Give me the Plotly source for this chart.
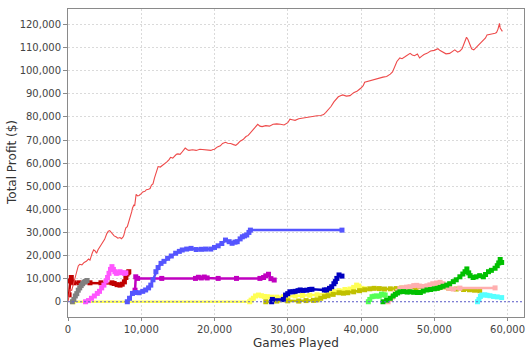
import plotly.graph_objects as go

# ---- data ----
red_x = [0, 150, 300, 500, 800, 1000, 1200, 1400, 1600, 1900, 2200, 2500, 2800, 3000, 3300, 3500, 3700, 3900, 4100,
         4300, 4500, 4800, 5000, 5300, 5500, 5700, 5900, 6100, 6300, 6600, 6800, 7100, 7300, 7500, 7600, 7800, 7900,
         8100, 8200, 8400, 8500, 8700, 8800, 9000, 9100, 9300, 9500, 9700, 10000, 10200, 10500, 10700, 11000, 11200,
         11400, 11600, 11800, 12000, 12200, 12300, 12600, 12900, 13200, 13500, 13800, 14000, 14300, 14500, 14800,
         15000, 15300, 15500, 15800, 16000, 16300, 16500, 17000, 17500, 18000, 18500, 19000, 19500, 19800, 20000,
         20400, 20800, 21100, 21500, 21800, 22200, 22600, 22900, 23200, 23500, 23900, 24300, 24600, 25000, 25300,
         25500, 25700, 25900, 26200, 26500, 27000, 27500, 28000, 28500, 29000, 29500, 30000, 30300, 30600, 31000,
         31500, 32000, 32500, 33000, 33500, 34000, 34500, 34900, 35200, 35500, 35900, 36300, 36600, 36900, 37200,
         37500, 38000, 38500, 39000, 39500, 40000, 40300, 40500, 41000, 41500, 42000, 42500, 43000, 43500, 44000,
         44300, 44500, 44700, 44900, 45300, 45600, 46000, 46300, 46700, 47000, 47300, 47700, 48000, 48300, 48600,
         49000, 49500, 50000, 50500, 50800, 51200, 51600, 52100, 52500, 52800, 53200, 53500, 53800, 54000, 54200,
         54400, 54600, 54800, 55100, 55400, 55700, 56000, 56200, 56500, 56800, 57000, 57200, 57600, 58000, 58300,
         58500, 58700, 58900, 59000, 59300]
red_y = [0, 3000, 5500, 4800, 8000, 10500, 12500, 15500, 16200, 16000, 17000, 17500, 18500, 18000, 21000, 22500,
         22000, 21000, 22500, 23500, 24000, 26000, 27000, 29500, 30500, 30800, 30000, 29000, 28500, 28000, 27500,
         27800, 27300, 28000, 28500, 31000, 32000, 32500, 33500, 35500, 37000, 39000, 40500, 42000, 41500, 46500,
         45800, 46000, 46800, 47500, 47800, 48500, 48700, 49000, 50500, 51000, 53500, 56000, 57500, 58500, 58300,
         59000, 59500, 60500, 61500, 62500, 62200, 63000, 63800, 64000, 63800, 64500, 65500, 66500, 65800, 65500,
         65800, 65500, 66000, 65800, 65400, 65500, 65900, 66000, 67000, 67500, 68500, 69000, 68600, 68500, 68000,
         67700, 68500, 69500, 70200, 71500, 72000, 73500, 74500, 75500, 76200, 76800, 76000, 75800, 76200, 76000,
         76800, 77000, 76800, 76500, 77500, 79000, 78800, 78500, 79200, 79500, 79700, 80000, 80100, 80500, 80600,
         81000, 82000, 83000, 84500, 86500, 87500, 88700, 89200, 89500, 89000, 89200, 90500, 91200, 92500, 93500,
         95000, 95500, 96000, 96500, 97000, 97200, 97500, 98500, 99500, 101000, 102500, 104000, 105500, 105200,
         106000, 106800, 107500, 106800, 106500, 107200, 105500, 106300, 107000, 107500, 108500, 108800, 109500,
         108700, 108000, 107300, 107500, 108500, 109000, 108000, 108500, 109500, 111000, 112500, 114500, 113500,
         111500, 109500, 109000, 110000, 110800, 111500, 112300, 113500, 114200, 115500, 115600, 116000, 116200,
         116500, 118000, 120500, 118500, 117000]

darkred_x = [150, 300, 450, 600, 800, 1500, 3000, 4500, 6000, 6300, 6700, 7100, 7400, 7700, 7900, 8050, 8200, 8300]
darkred_y = [3000, 9000, 10500, 8500, 8200, 8200, 8200, 8200, 8200, 7900, 7400, 7200, 7600, 8600, 10500, 12000, 12600, 13000]

gray_x = [600, 800, 1000, 1200, 1400, 1600, 1800, 2000, 2200, 2400, 2600]
gray_y = [0, 1000, 2500, 3500, 5000, 6000, 7000, 7800, 8500, 8800, 9200]

magenta_x = [2400, 2800, 3200, 3600, 4000, 4300, 4600, 4900, 5200, 5400, 5600, 5800, 6000, 6200, 6400, 6600,
             6800, 7100, 7400, 7700, 7900]
magenta_y = [0, 500, 1500, 2500, 3600, 4500, 6000, 7200, 9000, 10500, 12300, 14000, 15200, 14000, 13000, 12300,
             12500, 13000, 12600, 12300, 12500]

darkmag_x = [9150, 9250, 9500, 12800, 17400, 17800, 18200, 18600, 19000, 20500, 23000, 26200, 26700, 27000,
             27370, 27700, 28150]
darkmag_y = [5000, 10800, 10100, 10100, 10100, 10600, 10300, 10700, 10300, 10100, 10100, 10100, 10500, 11200,
             11900, 10000, 9400]

blue_x = [8100, 8400, 8800, 9200, 9700, 10200, 10600, 11000, 11300, 11600, 12000, 12300, 12700, 13100, 13600,
          14100, 14700, 15200, 15600, 16200, 16800, 17500, 18200, 18800, 19500, 20000, 20500, 21000, 21500, 22000,
          22400, 22800, 23100, 23500, 23800, 24100, 24400, 24700, 24900, 37400]
blue_y = [0, 1500, 3600, 4000, 3900, 4500, 5100, 6000, 7200, 9500, 13000, 14800, 16600, 17500, 18800, 19800,
          21000, 21800, 22400, 22800, 23100, 22600, 22700, 22800, 22800, 23500, 24200, 25200, 26700, 26000, 25300,
          25800, 26000, 27200, 28100, 28500, 28900, 30000, 31000, 31000]

yellow_x = [700, 24800, 25000, 25300, 25600, 26000, 26400, 26800, 27200, 27800, 28500, 29400, 30000, 31000, 32000,
            33000, 34000, 35300, 35800, 36300, 37000, 37800, 38500, 39000, 39400, 39700, 40100, 40500]
yellow_y = [0, 0, 700, 1500, 2500, 2900, 2600, 2300, 2200, 2000, 2000, 2200, 2300, 2500, 2700, 2800, 3000, 3600,
            4200, 4500, 4800, 5300, 5500, 6200, 7200, 6800, 5800, 5600]

olive_x = [27000, 28500, 30000, 31500, 32500, 33500, 34000, 34500, 35000, 35500, 36200, 37000, 37600, 38200, 39000,
           39800, 40500, 41200, 41800, 42500, 43200, 44000, 44800, 45500, 46500, 47500, 49000, 50500, 52000, 53000,
           54000, 54800, 55500, 56200]
olive_y = [0, 300, 400, 300, 500, 600, 800, 1500, 2200, 2600, 3200, 3900, 3700, 3900, 4300, 4800, 5200, 5600,
           5800, 5700, 5500, 5600, 5700, 5900, 6200, 6000, 6100, 6000, 5800, 5500, 5300, 5200, 5000, 4800]

darkblue_x = [27800, 27900, 29400, 29700, 30000, 30300, 30700, 31000, 31400, 31700, 32100, 32600, 33000, 33300,
              35000, 35300, 35700, 36000, 36300, 36500, 36700, 37000, 37400]
darkblue_y = [0, 1000, 1000, 2900, 3500, 4300, 4300, 4500, 4800, 5100, 4900, 5000, 5300, 5400, 5100, 5100, 5800,
              6500, 7800, 8700, 10100, 11600, 11100]

lgreen_x = [41000, 41200, 41500, 41800, 42100, 42500, 42800, 43100, 43300]
lgreen_y = [0, 1000, 2200, 2400, 2500, 2400, 3300, 3000, 2900]

green_x = [43000, 43500, 44000, 44400, 44700, 45000, 45300, 45800, 46300, 46700, 47200, 47700, 48100, 48500, 49000,
           49500, 50000, 50400, 50800, 51200, 51700, 52100, 52600, 53000, 53500, 53900, 54200, 54450, 54700, 54900,
           55300, 55700, 56200, 56700, 57000, 57400, 57800, 58300, 58600, 58800, 59000, 59200]
green_y = [0, 700, 1500, 2500, 3200, 3800, 4300, 4400, 4200, 4300, 4100, 4000, 4000, 4600, 5100, 5300, 5600, 5800,
           6200, 6700, 7200, 7800, 8700, 9500, 10800, 12000, 13000, 14200, 12500, 11300, 10500, 10800, 11300, 10800,
           11800, 13000, 13600, 14500, 15600, 16800, 18300, 17000]

pink_x = [43700, 44000, 44300, 44650, 45000, 45300, 45700, 46200, 46700, 47200, 47600, 48000, 48500, 49000, 49400,
          49800, 50300, 50800, 51200, 51500, 52000, 52600, 53500, 58300]
pink_y = [0, 1000, 2000, 3400, 4500, 5700, 6000, 6300, 6500, 7000, 7100, 6800, 6600, 6900, 7300, 7800, 8100, 8400,
          7800, 6500, 5800, 5500, 5900, 6000]

cyan_x = [55900, 56100, 56300, 56500, 56900, 57200, 57600, 58100, 58600, 59200]
cyan_y = [0, 1000, 2300, 2900, 3000, 2800, 2600, 2300, 2100, 1800]

x_ticks = [0, 10000, 20000, 30000, 40000, 50000, 60000]
y_ticks = [0, 10000, 20000, 30000, 40000, 50000, 60000, 70000, 80000, 90000, 100000, 110000, 120000]

series = [
    (yellow_x, yellow_y, "#FFFF55"),
    (olive_x, olive_y, "#C0C000"),
    (darkred_x, darkred_y, "#C00000"),
    (gray_x, gray_y, "#808080"),
    (magenta_x, magenta_y, "#FF55FF"),
    (darkmag_x, darkmag_y, "#C000C0"),
    (blue_x, blue_y, "#5555FF"),
    (darkblue_x, darkblue_y, "#0000C0"),
    (lgreen_x, lgreen_y, "#55FF55"),
    (pink_x, pink_y, "#FFAFAF"),
    (green_x, green_y, "#00C000"),
    (cyan_x, cyan_y, "#55FFFF"),
]

fig = go.Figure()
for xs, ys, col in series:
    fig.add_trace(go.Scatter(x=xs, y=ys, mode="lines+markers",
                             line=dict(color=col, width=2.5),
                             marker=dict(color=col, size=5, symbol="square"),
                             showlegend=False))
fig.add_trace(go.Scatter(x=red_x, y=red_y, mode="lines",
                         line=dict(color="#EE4A4A", width=1.1), showlegend=False))

fig.add_shape(type="line", xref="paper", yref="y", x0=0, x1=1, y0=0, y1=0,
              line=dict(color="#6060D0", width=1, dash="2px,2px"))

font = "DejaVu Sans, Verdana, sans-serif"
fig.update_layout(
    width=532, height=353,
    margin=dict(l=68, r=8, t=9, b=36),
    paper_bgcolor="white", plot_bgcolor="white",
    font=dict(family=font, size=10, color="#444444"),
    xaxis=dict(range=[0, 62250], tickvals=x_ticks, tickformat=",d",
               showgrid=True, gridcolor="#DADADA", griddash="2px,2px", gridwidth=1,
               showline=True, linecolor="#8A8A8A", linewidth=1, mirror=True,
               ticks="outside", ticklen=3, tickcolor="#8A8A8A", zeroline=False,
               tickfont=dict(size=10, color="#444444")),
    yaxis=dict(range=[-6600, 126700], tickvals=y_ticks, tickformat=",d",
               showgrid=True, gridcolor="#DADADA", griddash="2px,2px", gridwidth=1,
               showline=True, linecolor="#8A8A8A", linewidth=1, mirror=True,
               ticks="outside", ticklen=4, tickcolor="#8A8A8A", zeroline=False,
               tickfont=dict(size=10, color="#444444")),
    annotations=[
        dict(text="Games Played", xref="paper", yref="paper", x=0.5, y=0, yshift=-26,
             xanchor="center", yanchor="middle", showarrow=False,
             font=dict(size=12, color="#333333", family=font)),
        dict(text="Total Profit ($)", xref="paper", yref="paper", x=0, y=0.5, xshift=-56,
             xanchor="center", yanchor="middle", textangle=-90, showarrow=False,
             font=dict(size=12, color="#333333", family=font)),
    ],
)

fig.write_html("out.html")
